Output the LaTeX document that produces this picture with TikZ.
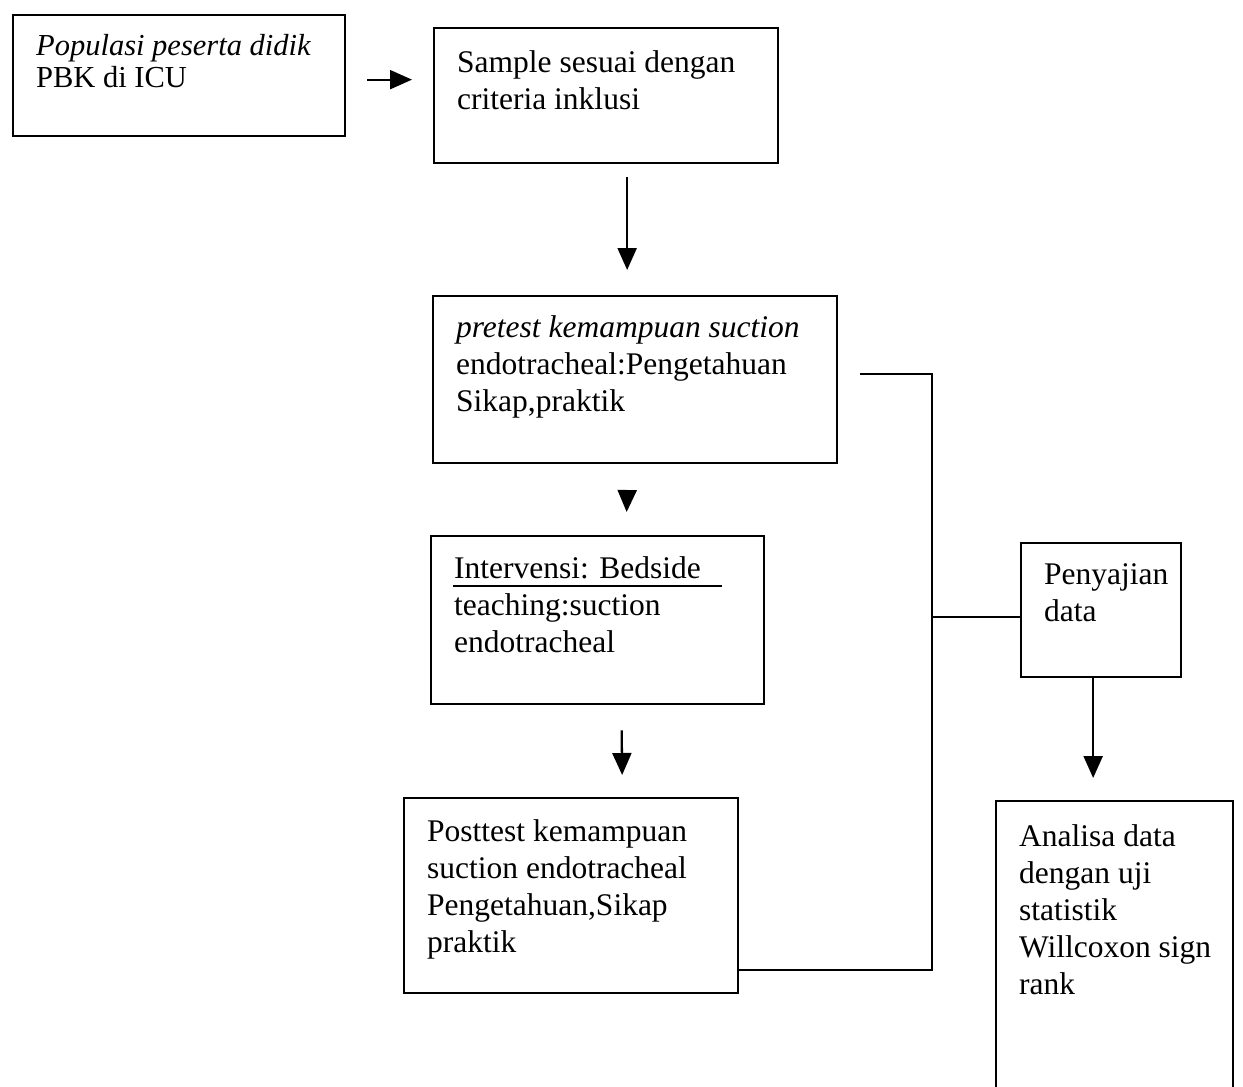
\documentclass[tikz,border=0pt]{standalone}
\usepackage{fontspec}
\setmainfont{Liberation Serif}
\usetikzlibrary{arrows.meta}

% text block of a box: [first baseline], width, height, lines
\newcommand{\boxtext}[4][44pt]{\parbox[c][#3][t]{#2}{\raggedright\leftskip=23pt\rule{0pt}{#1}#4}}

\begin{document}
\begin{tikzpicture}[x=1pt, y=-1pt, line width=2.3pt,
	every node/.style = {font=\fontsize{31.5}{37}\selectfont},
	flowbox/.style = {draw, anchor=north west, inner sep=0pt},
	>={Triangle[length=22pt,width=19pt]}]
\clip (0,0) rectangle (1243,1087);

\node[flowbox] (pop) at (12,14)
	{\boxtext[40pt]{332pt}{121pt}{\fontsize{30.5}{32}\selectfont\textit{Populasi peserta didik}\\PBK di ICU}};
\node[flowbox] (sample) at (433,27)
	{\boxtext{344pt}{135pt}{Sample sesuai dengan\\criteria inklusi}};
\node[flowbox] (pretest) at (432,295)
	{\boxtext[41pt]{404pt}{167pt}{\textit{pretest kemampuan suction}\\endotracheal:Pengetahuan\\Sikap,praktik}};
\node[flowbox] (interv) at (430,535)
	{\boxtext[42pt]{333pt}{168pt}{Intervensi: Bedside\\teaching:suction\\endotracheal}};
\node[flowbox] (post) at (403,797)
	{\boxtext[43pt]{334pt}{195pt}{Posttest kemampuan\\suction endotracheal\\Pengetahuan,Sikap\\praktik}};
\node[flowbox] (penyajian) at (1020,542)
	{\boxtext[41pt]{160pt}{134pt}{Penyajian\\data}};
\node[flowbox] (analisa) at (995,800)
	{\boxtext[45pt]{237pt}{300pt}{Analisa data\\dengan uji\\statistik\\Willcoxon sign\\rank}};

% underline in the intervensi box
\draw ([xshift=23pt,yshift=-51pt]interv.north west) -- ([xshift=-43pt,yshift=-51pt]interv.north east);

\draw[->] ([xshift=21pt,yshift=-4pt]pop.east) -- ([xshift=-21pt,yshift=-4pt]pop.east -| sample.west);
\draw[->] ([xshift=21pt,yshift=-13pt]sample.south) -- ([xshift=-8pt,yshift=25pt]pretest.north);
\draw[->] ([xshift=-8pt,yshift=-26pt]pretest.south) -- ([xshift=29pt,yshift=23pt]interv.north);
\draw[->] ([xshift=24pt,yshift=-25pt]interv.south) -- ([xshift=51pt,yshift=22pt]post.north);
\draw[->] ([xshift=-8pt]penyajian.south) -- ([xshift=-21.5pt,yshift=22pt]analisa.north);

\coordinate (bus) at (932,617);
\draw ([xshift=22pt,yshift=6pt]pretest.east) -| (bus) |- ([yshift=24pt]post.south east);
\draw (bus) -- (bus -| penyajian.west);
\end{tikzpicture}
\end{document}
